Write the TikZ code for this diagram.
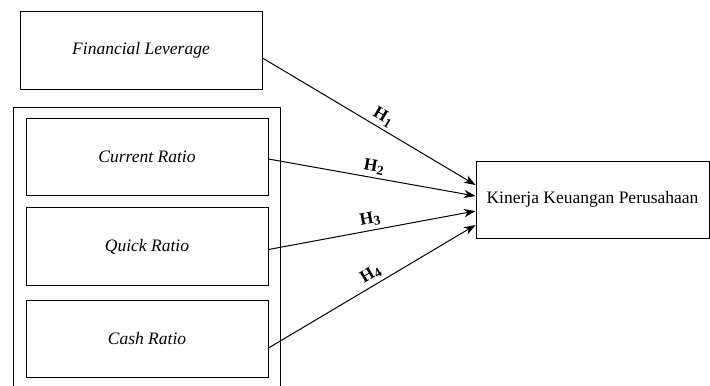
\documentclass[tikz,border=0pt]{standalone}
\usepackage{fontspec}
\setmainfont{Liberation Serif}
\usetikzlibrary{arrows.meta, positioning, calc}

\newcommand{\hsub}[1]{H\raisebox{-1.5pt}{\fontsize{8pt}{8pt}\selectfont #1}}

\begin{document}
\begin{tikzpicture}[
    x=0.6pt, y=-0.6pt,
    varbox/.style={draw, rectangle, line width=0.6pt, minimum width=145.2pt,
      minimum height=46.5pt, align=center, font=\fontsize{10.5pt}{12pt}\selectfont\itshape},
    depbox/.style={draw, rectangle, line width=0.6pt, minimum width=139.8pt,
      minimum height=46.2pt, align=center, font=\fontsize{10.5pt}{12pt}\selectfont},
    hyp/.style={font=\fontsize{10.5pt}{11pt}\selectfont\bfseries, sloped, above, inner sep=2pt},
    arrow/.style={line width=0.6pt, -{Stealth[length=7pt, width=5pt]}}
]
\useasboundingbox (0,0) rectangle (710,385);

\node[varbox] (lev) at (141,50.5) {Financial Leverage};
\node[varbox] (cur) at (147,157) {Current Ratio};
\node[varbox, below=6.6pt of cur] (quick) {Quick Ratio};
\node[varbox, below=8.4pt of quick] (cash) {Cash Ratio};
\node[depbox] (kin) at (592.5,199.5) {Kinerja Keuangan Perusahaan};

% frame round the liquidity ratios (open at the bottom)
\draw[line width=0.6pt] (13,386) -- (13,107) -- (280,107) -- (280,386);

\draw[arrow] ($(lev.east)+(0,7.5)$) -- node[hyp, pos=0.54] {\hsub{1}} ($(kin.west)+(0,-14.5)$);
\draw[arrow] ($(cur.east)+(0,2)$) -- node[hyp, pos=0.5] {\hsub{2}} ($(kin.west)+(0,-3.5)$);
\draw[arrow] ($(quick.east)+(0,3)$) -- node[hyp, pos=0.5] {\hsub{3}} ($(kin.west)+(0,11.5)$);
\draw[arrow] ($(cash.east)+(0,9)$) -- node[hyp, pos=0.52] {\hsub{4}} ($(kin.west)+(0,25.5)$);
\end{tikzpicture}
\end{document}
